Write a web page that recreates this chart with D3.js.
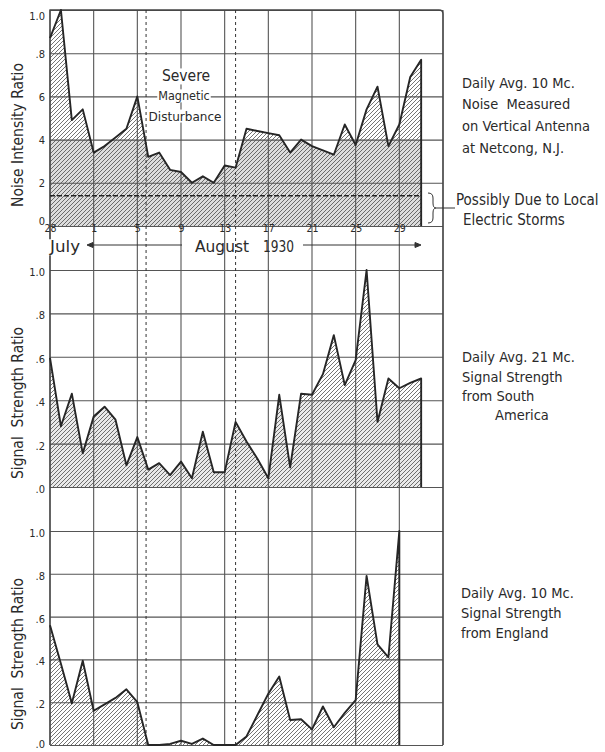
<!DOCTYPE html>
<html><head><meta charset="utf-8">
<script src="https://cdn.jsdelivr.net/npm/d3@7"></script>
<style>
body{margin:0;background:#fff}
svg{display:block}
text{font-family:'DejaVu Sans Condensed','DejaVu Sans',sans-serif;font-stretch:condensed;fill:#2a2a2a}
</style>
</head><body>
<svg id="chart" width="605" height="752"></svg>
<script>
// ---- data (day index 0 = July 28, 1930) ----
const dayTicks = [0, 4, 8, 12, 16, 20, 24, 28, 32];
const dayTickLabels = ["28", "1", "5", "9", "13", "17", "21", "25", "29"];
const noise = [0.87, 1.0, 0.49, 0.54, 0.34, 0.37, 0.41, 0.45, 0.60, 0.32, 0.34, 0.26, 0.25, 0.20, 0.23, 0.20,
  0.28, 0.27, 0.45, 0.44, 0.43, 0.42, 0.34, 0.40, 0.37, 0.35, 0.33, 0.47, 0.375, 0.54, 0.645, 0.37, 0.47, 0.69, 0.77];
const southAmerica = [0.595, 0.28, 0.43, 0.155, 0.325, 0.37, 0.31, 0.10, 0.23, 0.08, 0.11, 0.055, 0.117, 0.04, 0.255, 0.068,
  0.068, 0.30, 0.21, 0.13, 0.04, 0.425, 0.09, 0.43, 0.425, 0.52, 0.70, 0.47, 0.585, 1.0, 0.30, 0.50, 0.455, 0.48, 0.50];
const england = [0.56, 0.38, 0.195, 0.394, 0.16, 0.19, 0.22, 0.26, 0.20, 0.0, 0.0, 0.005, 0.02, 0.005, 0.03, 0.0,
  0.0, 0.0, 0.04, 0.14, 0.24, 0.32, 0.117, 0.12, 0.073, 0.18, 0.083, 0.15, 0.21, 0.79, 0.47, 0.41, 1.0];
const valueTicks = [0, 0.2, 0.4, 0.6, 0.8, 1.0];
const noiseTickLabels = ["0", "2", "4", "6", ".8", "1.0"];
const signalTickLabels = [".0", ".2", ".4", ".6", ".8", "1.0"];
const disturbanceDays = [8.8, 17];
const stormLevel = 0.14;
const axisTitles = ["Noise Intensity Ratio", "Signal  Strength Ratio", "Signal  Strength Ratio"];
const noteNoise = ["Daily Avg. 10 Mc.", "Noise  Measured", "on Vertical Antenna", "at Netcong, N.J."];
const noteSouth = ["Daily Avg. 21 Mc.", "Signal Strength", "from South", "America"];
const noteEngland = ["Daily Avg. 10 Mc.", "Signal Strength", "from England"];
const noteStorm = ["Possibly Due to Local", "Electric Storms"];
const disturbanceText = ["Severe", "Magnetic", "Disturbance"];

// ---- layout ----
const svg = d3.select("#chart");
const L = 50, R = 443, TOP = 10, BOT = 745;
const x = d3.scaleLinear().domain([0, 36]).range([L, R]);
const panels = [
  {top: 10, bottom: 226, data: noise, labels: noiseTickLabels, gray: "#dcdcdc"},
  {top: 270, bottom: 487, data: southAmerica, labels: signalTickLabels, gray: "#e9e9e9"},
  {top: 531, bottom: 745, data: england, labels: signalTickLabels, gray: null}
];
panels.forEach(p => p.y = d3.scaleLinear().domain([0, 1]).range([p.bottom, p.top]));

const defs = svg.append("defs");
const pat = defs.append("pattern").attr("id", "hatch").attr("patternUnits", "userSpaceOnUse")
  .attr("width", 4).attr("height", 4);
pat.append("path").attr("d", "M-1,1 l2,-2 M0,4 l4,-4 M3,5 l2,-2")
  .attr("stroke", "#3a3a3a").attr("stroke-width", 0.7);

function textBg(g, tx, ty, str, size, anchor, bg, len) {
  const t = g.append("text").attr("x", tx).attr("y", ty).attr("dy", "0.35em")
    .attr("font-size", size).attr("text-anchor", anchor || "start").text(str);
  if (len) t.attr("textLength", len).attr("lengthAdjust", "spacingAndGlyphs");
  if (bg) {
    const b = t.node().getBBox();
    g.insert("rect", () => t.node()).attr("x", b.x - 1).attr("y", b.y + 1)
      .attr("width", b.width + 2).attr("height", b.height - 2).attr("fill", "#fff");
  }
  return t;
}

// ---- areas (under grid) ----
panels.forEach((p, i) => {
  const g = svg.append("g");
  const area = d3.area().x((d, j) => x(j)).y0(p.y(0)).y1(d => p.y(d));
  if (p.gray) {
    const cid = "clip" + i;
    defs.append("clipPath").attr("id", cid).append("rect")
      .attr("x", L).attr("width", R - L).attr("y", p.y(0.4)).attr("height", p.y(0) - p.y(0.4));
    g.append("path").datum(p.data).attr("d", area).attr("fill", p.gray).attr("clip-path", `url(#${cid})`);
  }
  g.append("path").datum(p.data).attr("d", area).attr("fill", "url(#hatch)");
});

// ---- grid ----
const grid = svg.append("g").attr("stroke", "#555").attr("stroke-width", 1.1).attr("fill", "none");
d3.range(0, 37, 4).forEach(d => {
  grid.append("line").attr("x1", x(d)).attr("x2", x(d)).attr("y1", TOP).attr("y2", BOT);
});
panels.forEach((p, i) => {
  const ax = d3.axisLeft(p.y).tickValues(valueTicks).tickSize(-(R - L)).tickPadding(5)
    .tickFormat((d, j) => p.labels[j]);
  const g = svg.append("g").attr("transform", `translate(${L},0)`).call(ax);
  g.select(".domain").remove();
  g.selectAll(".tick line").attr("stroke", "#555").attr("stroke-width", 1.1);
  g.selectAll(".tick text").attr("font-size", 11).attr("font-family", null).attr("fill", "#2a2a2a")
    .attr("dy", (d) => i === 0 ? (d === 1 ? "0.85em" : d === 0 ? "-0.1em" : "0.35em")
      : (i === 2 && d === 0 ? "0.2em" : "0.5em"));
});
// frame
svg.append("path").attr("fill", "none").attr("stroke", "#444").attr("stroke-width", 1.3)
  .attr("d", `M${L},${BOT} V${TOP} H${R - 4} Q${R},${TOP} ${R},${TOP + 4} V${BOT}`);

// ---- disturbance dashed lines ----
svg.append("g").selectAll("line").data(disturbanceDays).join("line")
  .attr("x1", d => x(d)).attr("x2", d => x(d)).attr("y1", TOP).attr("y2", BOT)
  .attr("stroke", "#333").attr("stroke-width", 1).attr("stroke-dasharray", "3,3");

// storm dashed level
svg.append("line").attr("x1", x(0)).attr("x2", x(noise.length - 1))
  .attr("y1", panels[0].y(stormLevel)).attr("y2", panels[0].y(stormLevel))
  .attr("stroke", "#222").attr("stroke-width", 1.3).attr("stroke-dasharray", "5,2");

// ---- data lines ----
panels.forEach(p => {
  const pts = p.data.map((v, j) => [x(j), p.y(v)]);
  pts.push([x(p.data.length - 1), p.y(0)]);
  svg.append("path").attr("d", d3.line()(pts)).attr("fill", "none")
    .attr("stroke", "#262626").attr("stroke-width", 1.9).attr("stroke-linejoin", "round");
});

// ---- month labels & arrows ----
const lab = svg.append("g");
textBg(lab, 50, 247, "July", 15, "start", true, 30);
textBg(lab, 195, 247, "August", 15, "start", false, 54);
textBg(lab, 263, 247, "1930", 15, "start", false, 31);
const arr = svg.append("g").attr("stroke", "#333").attr("stroke-width", 1).attr("fill", "#333");
arr.append("line").attr("x1", 89).attr("x2", x(12) + 1).attr("y1", 245).attr("y2", 245);
arr.append("path").attr("d", "M87,245 l6,-2.5 v5 z");
arr.append("line").attr("x1", 303).attr("x2", 418).attr("y1", 245).attr("y2", 245);
arr.append("path").attr("d", "M421,245 l-6,-2.5 v5 z");

// ---- x axis labels ----
const xa = d3.axisBottom(x).tickValues(dayTicks).tickSize(0).tickPadding(0)
  .tickFormat((d, j) => dayTickLabels[j]);
const xg = svg.append("g").attr("transform", `translate(0,${panels[0].bottom})`).call(xa);
xg.select(".domain").remove();
xg.selectAll(".tick text").attr("font-size", 10.5).attr("font-family", null).attr("fill", "#2a2a2a")
  .attr("dy", "0.6em");

// ---- disturbance text ----
textBg(lab, 186, 76, disturbanceText[0], 15.5, "middle", true);
textBg(lab, 184, 96, disturbanceText[1], 12.5, "middle", true);
textBg(lab, 185, 116, disturbanceText[2], 13, "middle", true, 73);

// ---- axis titles ----
const titleY = [135, 403, 654];
axisTitles.forEach((t, i) => {
  lab.append("text").attr("transform", `translate(18,${titleY[i]}) rotate(-90)`)
    .attr("text-anchor", "middle").attr("dy", "0.35em").attr("font-size", 15.5)
    .attr("xml:space", "preserve").text(t);
});

// ---- right notes ----
[[noteNoise, 462, [83, 104, 126, 148]], [noteSouth, 462, [357, 377, 396, 415]], [noteEngland, 461, [593, 613, 633]]]
  .forEach(([lines, nx, ys]) => lines.forEach((s, j) => {
    const xx = (lines === noteSouth && j === 3) ? 495 : nx;
    lab.append("text").attr("x", xx).attr("y", ys[j]).attr("dy", "0.35em").attr("font-size", 14.5)
      .attr("xml:space", "preserve").text(s);
  }));
lab.append("text").attr("x", 456).attr("y", 200).attr("dy", "0.35em").attr("font-size", 15).text(noteStorm[0]);
lab.append("text").attr("x", 463).attr("y", 220).attr("dy", "0.35em").attr("font-size", 15).text(noteStorm[1]);
// brace
svg.append("path").attr("fill", "none").attr("stroke", "#333").attr("stroke-width", 1)
  .attr("d", "M428,193 q5,0 5,5 v5 q0,5 3,5 q-3,0 -3,5 v5 q0,5 -5,5 M436,208 H455");
</script>
</body></html>
